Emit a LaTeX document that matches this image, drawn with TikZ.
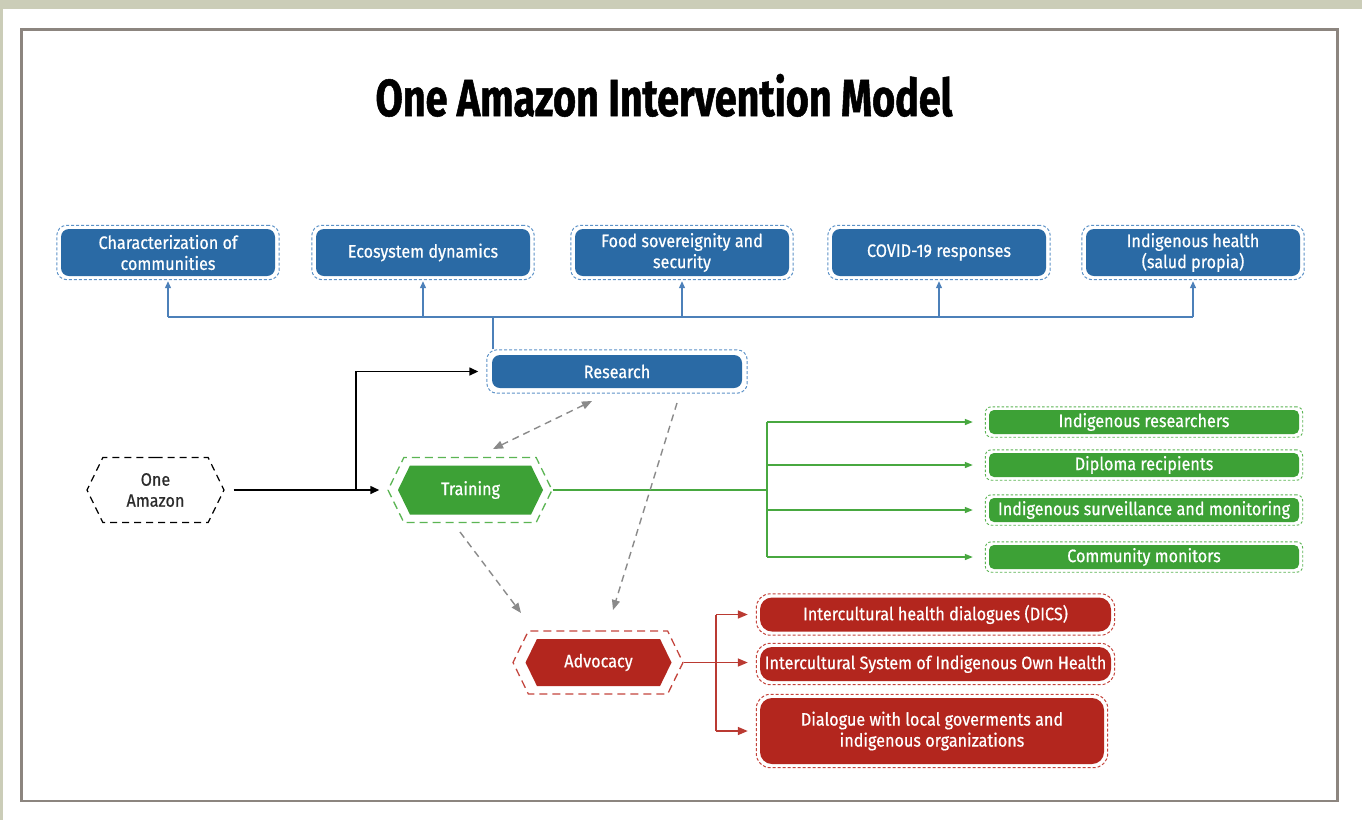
\documentclass[tikz,border=0pt]{standalone}
\usepackage{fontspec}
\setmainfont{Fira Sans}[FakeStretch=0.9, FakeBold=0.6]
\newfontfamily\titlefont{Fira Sans}[FakeStretch=0.76, FakeBold=1]
\usetikzlibrary{shapes.symbols,fit,arrows.meta,calc}
\definecolor{beige}{HTML}{CBCDB8}
\definecolor{framegray}{HTML}{8C857F}
\definecolor{bluef}{HTML}{2A6AA5}
\definecolor{bluel}{HTML}{5E93C8}
\definecolor{bluec}{HTML}{4C80B9}
\definecolor{greenf}{HTML}{3DA136}
\definecolor{greenl}{HTML}{5BB553}
\definecolor{greenc}{HTML}{48A840}
\definecolor{redf}{HTML}{B3261E}
\definecolor{redl}{HTML}{C4453D}
\definecolor{redc}{HTML}{BA3A32}
\definecolor{grayc}{HTML}{8A8A8A}
\definecolor{darktext}{HTML}{2B2B2B}
\newcommand{\boxfont}{\fontsize{18}{21}\selectfont}
\tikzset{
  fillbox/.style={rectangle, rounded corners=8pt, text=white, align=center, inner sep=0pt, font=\boxfont},
  bluebox/.style={fillbox, fill=bluef, minimum width=214pt, minimum height=47pt},
  blueouter/.style={draw=bluel, line width=1pt, dash pattern=on 3pt off 2pt, rounded corners=10pt, inner xsep=4pt, inner ysep=3.5pt},
  greenbox/.style={fillbox, fill=greenf, rounded corners=5pt, minimum width=310pt, minimum height=24pt},
  greenouter/.style={draw=greenl, line width=0.9pt, dash pattern=on 2.5pt off 2pt, rounded corners=6pt, inner xsep=3.5pt, inner ysep=3pt},
  redbox/.style={fillbox, fill=redf, rounded corners=12pt},
  redouter/.style={draw=redl, line width=1pt, dash pattern=on 3pt off 2pt, rounded corners=14pt, inner sep=3.5pt},
  hexa/.style={shape=signal, signal to=east and west, signal pointer angle=128, inner sep=0pt, align=center, font=\boxfont},
  blueline/.style={draw=bluec, line width=1.2pt},
  greenline/.style={draw=greenc, line width=1.4pt},
  redline/.style={draw=redc, line width=1.6pt},
  blackline/.style={draw=black, line width=1.5pt},
  grayline/.style={draw=grayc, line width=1.4pt, dash pattern=on 7pt off 5pt},
}
\begin{document}
\begin{tikzpicture}[x=1pt,y=-1pt]
\useasboundingbox (0,0) rectangle (1362,820);
\fill[beige] (0,0) rectangle (1362,820);
\fill[white] (3,8.5) rectangle (1362,820);
\draw[framegray, line width=2.7pt] (21.3,29.3) rectangle (1337.5,801);

\node[font=\titlefont\bfseries\fontsize{52}{60}\selectfont, anchor=base] (title) at (664,116) {One Amazon Intervention Model};

% top research topics
\node[bluebox] (c1) at (168,252.5) {Characterization of\\communities};
\node[bluebox] (c2) at (423,252.5) {Ecosystem dynamics};
\node[bluebox] (c3) at (682,252.5) {Food sovereignity and\\security};
\node[bluebox] (c4) at (939,252.5) {COVID-19 responses};
\node[bluebox] (c5) at (1193,252.5) {Indigenous health\\(salud propia)};
\foreach \i in {1,...,5} {\node[blueouter, fit=(c\i)] (c\i o) {};}

% Research
\node[bluebox, minimum width=250pt, minimum height=33pt] (res) at (617,371.5) {Research};
\node[blueouter, fit=(res), inner xsep=5pt, inner ysep=5pt] (reso) {};

% One Amazon
\node[hexa, draw=black, line width=1.2pt, dash pattern=on 7pt off 5pt, text=darktext, minimum width=137pt, minimum height=65pt] (oa) at (155.5,490) {One\\Amazon};

% Training
\node[hexa, draw=greenl, line width=1.3pt, dash pattern=on 8pt off 5pt, minimum width=164pt, minimum height=65pt] (trO) at (470,490) {};
\node[hexa, fill=greenf, text=white, minimum width=145pt, minimum height=49pt] (tr) at (470.5,490) {Training};

% Advocacy
\node[hexa, draw=redl, line width=1.3pt, dash pattern=on 8pt off 5pt, minimum width=170pt, minimum height=63pt] (adO) at (598,662.5) {};
\node[hexa, fill=redf, text=white, minimum width=146pt, minimum height=47pt] (ad) at (598.5,662.5) {Advocacy};

% green outputs
\node[greenbox] (g1) at (1144,422) {Indigenous researchers};
\node[greenbox] (g2) at (1144,465) {Diploma recipients};
\node[greenbox] (g3) at (1144,510) {Indigenous surveillance and monitoring};
\node[greenbox] (g4) at (1144,557) {Community monitors};
\foreach \i in {1,...,4} {\node[greenouter, fit=(g\i)] (g\i o) {};}

% red outputs
\node[redbox, minimum width=351pt, minimum height=34pt] (r1) at (935.5,614.5) {Intercultural health dialogues (DICS)};
\node[redbox, minimum width=351pt, minimum height=34pt] (r2) at (935.5,664) {Intercultural System of Indigenous Own Health};
\node[redbox, minimum width=344pt, minimum height=66pt] (r3) at (932,731) {Dialogue with local goverments and\\indigenous organizations};
\foreach \i in {1,...,3} {\node[redouter, fit=(r\i)] (r\i o) {};}

% blue connectors
\coordinate (bus) at (493,317);
\draw[blueline] (reso.north -| bus) -- (bus);
\draw[blueline] (bus -| c1o) -- (bus -| c5o);
\foreach \i in {1,...,5} {\draw[blueline, -{Triangle[length=7pt,width=6pt]}, shorten >=1pt] (bus -| c\i o) -- (c\i o.south);}

% black connectors
\coordinate (bsplit) at (356,490);
\draw[blackline, -{Triangle[length=9pt,width=8pt]}, shorten <=9pt, shorten >=8pt] (oa.east) -- (trO.west);
\draw[blackline, -{Triangle[length=9pt,width=8pt]}, shorten >=8pt] (bsplit) |- (reso.west);

% green connectors
\coordinate (gsplit) at (767,490);
\draw[greenline] (trO.east) -- (gsplit);
\draw[greenline] (gsplit |- g1o) -- (gsplit |- g4o);
\foreach \i in {1,...,4} {\draw[greenline, -{Triangle[length=8pt,width=6pt]}, shorten >=12pt] (gsplit |- g\i o) -- (g\i o.west);}

% red connectors
\coordinate (rsplit) at (716,662.5);
\draw[redline] (rsplit |- r1o) -- (rsplit |- r3o);
\draw[redline, -{Triangle[length=10pt,width=8pt]}, shorten >=8pt] (adO.east) -- (adO.east -| r2o.west);
\draw[redline, -{Triangle[length=10pt,width=8pt]}, shorten >=8pt] (rsplit |- r1o) -- (r1o.west);
\draw[redline, -{Triangle[length=10pt,width=8pt]}, shorten >=8pt] (rsplit |- r3o) -- (r3o.west);

% gray dashed relations
\coordinate (g1a) at (592,401);
\coordinate (g1b) at (493,449);
\coordinate (g2a) at (677,403);
\coordinate (g2b) at (613,610);
\coordinate (g3a) at (460,532);
\coordinate (g3b) at (521,613);
\draw[grayline, {Triangle[length=10pt,width=8pt]}-{Triangle[length=10pt,width=8pt]}] (g1b) -- (g1a);
\draw[grayline, -{Triangle[length=10pt,width=8pt]}] (g2a) -- (g2b);
\draw[grayline, -{Triangle[length=10pt,width=8pt]}] (g3a) -- (g3b);
\end{tikzpicture}
\end{document}
